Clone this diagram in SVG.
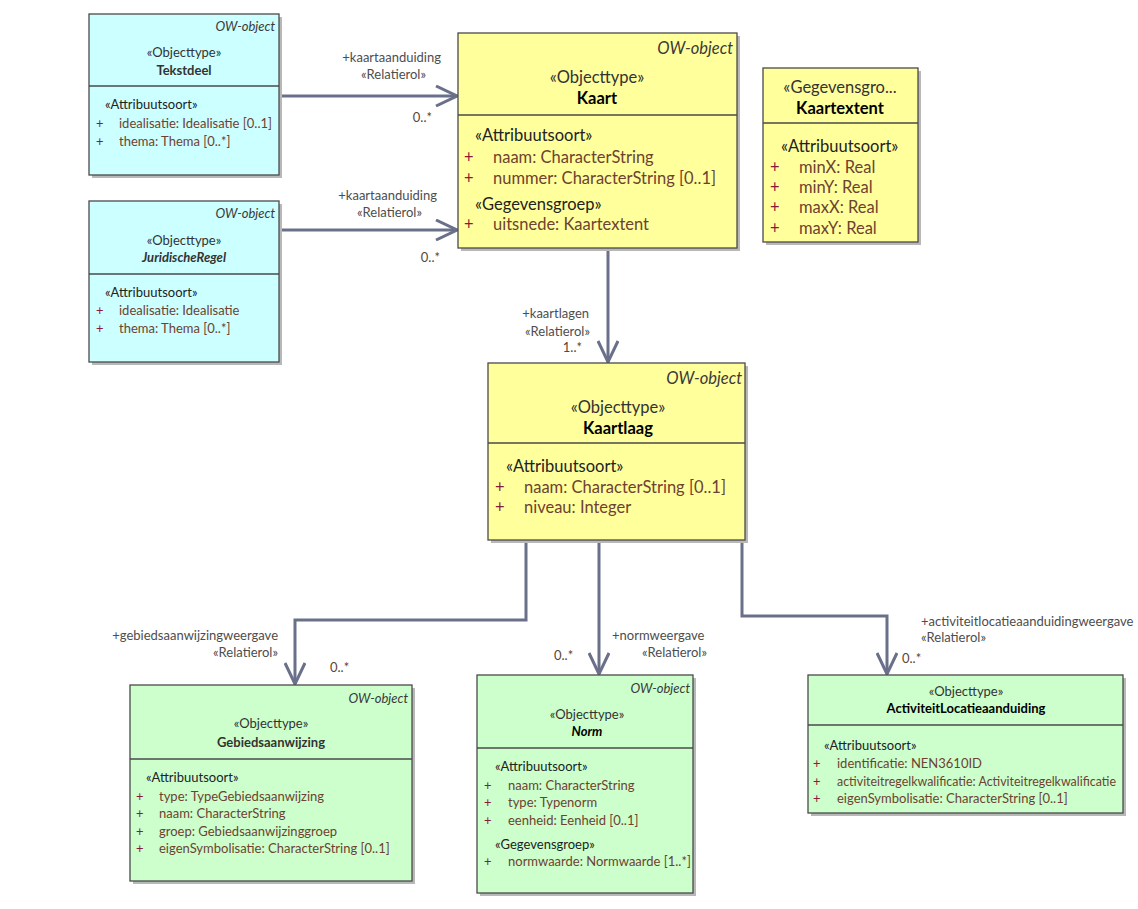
<svg xmlns="http://www.w3.org/2000/svg" width="1138" height="909" viewBox="0 0 1138 909">
<defs>
<style>
text{font-family:Lato,"Noto Sans","Liberation Sans",sans-serif;dominant-baseline:central}
.shadow{fill:#b8b8b8}
.cyan{fill:#ccffff;stroke:#4a4a4a;stroke-width:1.3}
.yel{fill:#ffff9c;stroke:#4a4a4a;stroke-width:1.3}
.grn{fill:#ccffcc;stroke:#4a4a4a;stroke-width:1.3}
.div{stroke:#4a4a4a;stroke-width:1.3}
.s{font-size:13px}
.l{font-size:16.5px}
.ow{font-style:italic;fill:#3a3a3a;text-anchor:end}
.st{fill:#333;text-anchor:middle}
.nm{font-weight:bold;fill:#333;text-anchor:middle}
.nmk{font-weight:bold;fill:#000;text-anchor:middle}
.sec{fill:#222}
.pl{fill:#8a1a3a}
.at{fill:#6e4230}
.cl{font-size:13px;fill:#4d4d4d}
.mul{font-size:13px;fill:#5a4636}
.edge{fill:none;stroke:#6a7089;stroke-width:3}
</style>
<marker id="arr" viewBox="0 0 24 22" refX="22" refY="11" markerWidth="24" markerHeight="22" markerUnits="userSpaceOnUse" orient="auto">
<path d="M1,1 L22,11 L1,21" fill="none" stroke="#6a7089" stroke-width="3"/>
</marker>
</defs>

<g id="connectors">
<path class="edge" d="M279,96 L457,96" marker-end="url(#arr)"/>
<path class="edge" d="M279,230 L457,230" marker-end="url(#arr)"/>
<path class="edge" d="M608,248 L608,362" marker-end="url(#arr)"/>
<path class="edge" d="M526,540 L526,620 L295,620 L295,684" marker-end="url(#arr)"/>
<path class="edge" d="M599,540 L599,674" marker-end="url(#arr)"/>
<path class="edge" d="M742,540 L742,616 L887,616 L887,674" marker-end="url(#arr)"/>
<text class="cl" x="441" y="57" text-anchor="end">+kaartaanduiding</text>
<text class="cl" x="426" y="74" text-anchor="end">«Relatierol»</text>
<text class="mul" x="432" y="117" text-anchor="end">0..*</text>
<text class="cl" x="437" y="195" text-anchor="end">+kaartaanduiding</text>
<text class="cl" x="422" y="212" text-anchor="end">«Relatierol»</text>
<text class="mul" x="440" y="257" text-anchor="end">0..*</text>
<text class="cl" x="589" y="313" text-anchor="end">+kaartlagen</text>
<text class="cl" x="590" y="331" text-anchor="end">«Relatierol»</text>
<text class="mul" x="582" y="347" text-anchor="end">1..*</text>
<text class="cl" x="278" y="635" text-anchor="end">+gebiedsaanwijzingweergave</text>
<text class="cl" x="278" y="652" text-anchor="end">«Relatierol»</text>
<text class="mul" x="330" y="667">0..*</text>
<text class="cl" x="612" y="635">+normweergave</text>
<text class="cl" x="707" y="652" text-anchor="end">«Relatierol»</text>
<text class="mul" x="554" y="655">0..*</text>
<text class="cl" x="921" y="621">+activiteitlocatieaanduidingweergave</text>
<text class="cl" x="921" y="637">«Relatierol»</text>
<text class="mul" x="902" y="658">0..*</text>
</g>

<g id="Tekstdeel">
<rect class="shadow" x="92" y="17" width="190" height="161"/>
<rect class="cyan" x="89" y="14" width="190" height="161"/>
<line class="div" x1="89" y1="86" x2="279" y2="86"/>
<text class="s ow" x="275" y="26">OW-object</text>
<text class="s st" x="184" y="52">«Objecttype»</text>
<text class="s nm" x="184" y="70">Tekstdeel</text>
<text class="s sec" x="105" y="104">«Attribuutsoort»</text>
<text class="s pl" x="96" y="123">+</text>
<text class="s at" x="119" y="123">idealisatie: Idealisatie [0..1]</text>
<text class="s pl" x="96" y="141">+</text>
<text class="s at" x="119" y="141">thema: Thema [0..*]</text>
</g>

<g id="JuridischeRegel">
<rect class="shadow" x="92" y="204" width="190" height="161"/>
<rect class="cyan" x="89" y="201" width="190" height="161"/>
<line class="div" x1="89" y1="274" x2="279" y2="274"/>
<text class="s ow" x="275" y="213">OW-object</text>
<text class="s st" x="184" y="240">«Objecttype»</text>
<text class="s nm" x="184" y="257" font-style="italic">JuridischeRegel</text>
<text class="s sec" x="105" y="292">«Attribuutsoort»</text>
<text class="s pl" x="96" y="310">+</text>
<text class="s at" x="119" y="310">idealisatie: Idealisatie</text>
<text class="s pl" x="96" y="328">+</text>
<text class="s at" x="119" y="328">thema: Thema [0..*]</text>
</g>

<g id="Kaart">
<rect class="shadow" x="461" y="36" width="279" height="215"/>
<rect class="yel" x="458" y="33" width="279" height="215"/>
<line class="div" x1="458" y1="115" x2="737" y2="115"/>
<text class="l ow" x="733" y="48">OW-object</text>
<text class="l st" x="597" y="77" fill="#000">«Objecttype»</text>
<text class="l nmk" x="597" y="98">Kaart</text>
<text class="l sec" x="475" y="135">«Attribuutsoort»</text>
<text class="l pl" x="464" y="157">+</text>
<text class="l at" x="493" y="157">naam: CharacterString</text>
<text class="l pl" x="464" y="178">+</text>
<text class="l at" x="493" y="178">nummer: CharacterString [0..1]</text>
<text class="l sec" x="475" y="204">«Gegevensgroep»</text>
<text class="l pl" x="464" y="224">+</text>
<text class="l at" x="493" y="224">uitsnede: Kaartextent</text>
</g>

<g id="Kaartextent">
<rect class="shadow" x="766" y="71" width="155" height="174"/>
<rect class="yel" x="763" y="68" width="155" height="174"/>
<line class="div" x1="763" y1="123" x2="918" y2="123"/>
<text class="l st" x="840" y="87" fill="#000">«Gegevensgro...</text>
<text class="l nmk" x="840" y="108">Kaartextent</text>
<text class="l sec" x="781" y="146">«Attribuutsoort»</text>
<text class="l pl" x="770" y="167">+</text>
<text class="l at" x="799" y="167">minX: Real</text>
<text class="l pl" x="770" y="187">+</text>
<text class="l at" x="799" y="187">minY: Real</text>
<text class="l pl" x="770" y="207">+</text>
<text class="l at" x="799" y="207">maxX: Real</text>
<text class="l pl" x="770" y="228">+</text>
<text class="l at" x="799" y="228">maxY: Real</text>
</g>

<g id="Kaartlaag">
<rect class="shadow" x="491" y="366" width="257" height="177"/>
<rect class="yel" x="488" y="363" width="257" height="177"/>
<line class="div" x1="488" y1="443" x2="745" y2="443"/>
<text class="l ow" x="742" y="378">OW-object</text>
<text class="l st" x="618" y="407" fill="#000">«Objecttype»</text>
<text class="l nmk" x="618" y="428">Kaartlaag</text>
<text class="l sec" x="506" y="466">«Attribuutsoort»</text>
<text class="l pl" x="495" y="487">+</text>
<text class="l at" x="524" y="487">naam: CharacterString [0..1]</text>
<text class="l pl" x="495" y="507">+</text>
<text class="l at" x="524" y="507">niveau: Integer</text>
</g>

<g id="Gebiedsaanwijzing">
<rect class="shadow" x="133" y="688" width="282" height="196"/>
<rect class="grn" x="130" y="685" width="282" height="196"/>
<line class="div" x1="130" y1="759" x2="412" y2="759"/>
<text class="s ow" x="408" y="698">OW-object</text>
<text class="s st" x="271" y="723">«Objecttype»</text>
<text class="s nm" x="271" y="742">Gebiedsaanwijzing</text>
<text class="s sec" x="146" y="777">«Attribuutsoort»</text>
<text class="s pl" x="136" y="796">+</text>
<text class="s at" x="159" y="796">type: TypeGebiedsaanwijzing</text>
<text class="s pl" x="136" y="813">+</text>
<text class="s at" x="159" y="813">naam: CharacterString</text>
<text class="s pl" x="136" y="831">+</text>
<text class="s at" x="159" y="831">groep: Gebiedsaanwijzinggroep</text>
<text class="s pl" x="136" y="848">+</text>
<text class="s at" x="159" y="848">eigenSymbolisatie: CharacterString [0..1]</text>
</g>

<g id="Norm">
<rect class="shadow" x="480" y="678" width="216" height="218"/>
<rect class="grn" x="477" y="675" width="216" height="218"/>
<line class="div" x1="477" y1="748" x2="693" y2="748"/>
<text class="s ow" x="690" y="688">OW-object</text>
<text class="s st" x="587" y="714" fill="#111">«Objecttype»</text>
<text class="s nmk" x="587" y="731" font-style="italic">Norm</text>
<text class="s sec" x="495" y="766">«Attribuutsoort»</text>
<text class="s pl" x="484" y="785">+</text>
<text class="s at" x="508" y="785">naam: CharacterString</text>
<text class="s pl" x="484" y="802">+</text>
<text class="s at" x="508" y="802">type: Typenorm</text>
<text class="s pl" x="484" y="820">+</text>
<text class="s at" x="508" y="820">eenheid: Eenheid [0..1]</text>
<text class="s sec" x="495" y="844">«Gegevensgroep»</text>
<text class="s pl" x="484" y="861">+</text>
<text class="s at" x="508" y="861">normwaarde: Normwaarde [1..*]</text>
</g>

<g id="ActiviteitLocatieaanduiding">
<rect class="shadow" x="811" y="678" width="315" height="138"/>
<rect class="grn" x="808" y="675" width="315" height="138"/>
<line class="div" x1="808" y1="725" x2="1123" y2="725"/>
<text class="s st" x="966" y="691" fill="#111">«Objecttype»</text>
<text class="s nmk" x="966" y="708">ActiviteitLocatieaanduiding</text>
<text class="s sec" x="824" y="745">«Attribuutsoort»</text>
<text class="s pl" x="813" y="763">+</text>
<text class="s at" x="837" y="763">identificatie: NEN3610ID</text>
<text class="s pl" x="813" y="781">+</text>
<text class="s at" x="837" y="781" textLength="279" lengthAdjust="spacingAndGlyphs">activiteitregelkwalificatie: Activiteitregelkwalificatie</text>
<text class="s pl" x="813" y="798">+</text>
<text class="s at" x="837" y="798">eigenSymbolisatie: CharacterString [0..1]</text>
</g>
</svg>
